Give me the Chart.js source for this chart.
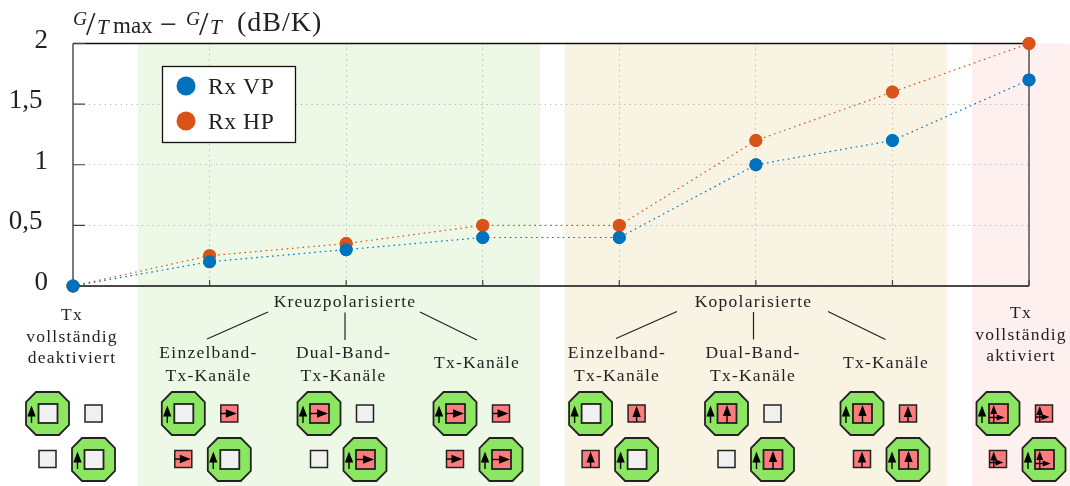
<!DOCTYPE html>
<html lang="de">
<head>
<meta charset="utf-8">
<title>G/T Differenz</title>
<script src="https://cdn.jsdelivr.net/npm/chart.js@4/dist/chart.umd.min.js"></script>
<style>
    html, body { margin: 0; background: #fff; }
    canvas { display: block; }
</style>
</head>
<body>
<canvas id="chart" width="1070" height="486"></canvas>
<script>
// --- Daten ---
const categories = [0, 1, 2, 3, 4, 5, 6, 7];
const rxVP = [0, 0.2, 0.3, 0.4, 0.4, 1, 1.2, 1.7];
const rxHP = [0, 0.25, 0.35, 0.5, 0.5, 1.2, 1.6, 2];
const seriesNames = ['Rx VP', 'Rx HP'];
const yTickLabels = ['0', '0,5', '1', '1,5', '2'];
const groupHeads = ['Kreuzpolarisierte', 'Kopolarisierte'];
const categoryLabels = [
    ['Tx', 'vollständig', 'deaktiviert'],
    ['Einzelband-', 'Tx-Kanäle'],
    ['Dual-Band-', 'Tx-Kanäle'],
    ['Tx-Kanäle'],
    ['Einzelband-', 'Tx-Kanäle'],
    ['Dual-Band-', 'Tx-Kanäle'],
    ['Tx-Kanäle'],
    ['Tx', 'vollständig', 'aktiviert']
];
// Was in den Antennen-Symbolen steckt: '' aus, 'r' horizontal, 'u' vertikal, 'ur' beide
const iconInner = ['', '', 'r', 'r', '', 'u', 'u', 'ur'];
const iconOuter = ['', 'r', '', 'r', 'u', '', 'u', 'ur'];

const BLUE = '#0072BD';
const ORANGE = '#D95319';
const INK = '#222';
const SERIF = '"Liberation Serif", serif';
const LABEL_SIZE = 17.5;
const LABEL_SPACING = '1.25px';

// Hintergrundbänder, in Einheiten der x-Achse
const bands = [
    { from: 0.476, to: 3.42, color: '#EDF9E6' },
    { from: 3.6, to: 6.4, color: '#F9F3E4' },
    { from: 6.583, to: 7.3, color: '#FFF0F0' }
];

const bandPlugin = {
    id: 'bands',
    beforeDraw(chart) {
        const { ctx, scales: { x }, chartArea } = chart;
        bands.forEach(b => {
            const l = x.getPixelForValue(b.from);
            const r = x.getPixelForValue(b.to);
            ctx.fillStyle = b.color;
            ctx.fillRect(l, chartArea.top, r - l, chart.height - chartArea.top);
        });
    }
};

function put(ctx, text, x, y, size, opts = {}) {
    ctx.font = `${opts.italic ? 'italic ' : ''}${size}px ${SERIF}`;
    ctx.letterSpacing = opts.spacing || '0px';
    ctx.textAlign = opts.align || 'center';
    ctx.textBaseline = 'alphabetic';
    ctx.fillStyle = INK;
    ctx.fillText(text, x, y);
    ctx.letterSpacing = '0px';
}

function arrow(ctx, x0, y0, x1, y1, head) {
    const a = Math.atan2(y1 - y0, x1 - x0);
    ctx.strokeStyle = '#000';
    ctx.fillStyle = '#000';
    ctx.lineWidth = 1.4;
    ctx.beginPath();
    ctx.moveTo(x0, y0);
    ctx.lineTo(x1 - Math.cos(a) * head * 0.5, y1 - Math.sin(a) * head * 0.5);
    ctx.stroke();
    ctx.beginPath();
    ctx.moveTo(x1, y1);
    ctx.lineTo(x1 - head * Math.cos(a) - head * 0.38 * Math.sin(a), y1 - head * Math.sin(a) + head * 0.38 * Math.cos(a));
    ctx.lineTo(x1 - head * Math.cos(a) + head * 0.38 * Math.sin(a), y1 - head * Math.sin(a) - head * 0.38 * Math.cos(a));
    ctx.closePath();
    ctx.fill();
}

// Quadrat mit Inhalt, s = halbe Kantenlänge
function cell(ctx, cx, cy, s, state, lw) {
    ctx.fillStyle = state ? '#FF7A7A' : '#F0F0F0';
    ctx.strokeStyle = '#222';
    ctx.lineWidth = lw;
    ctx.fillRect(cx - s, cy - s, s * 2, s * 2);
    ctx.strokeRect(cx - s, cy - s, s * 2, s * 2);
    const both = state === 'ur';
    if (state.includes('u')) {
        const ax = both ? cx - s * 0.5 : cx;
        arrow(ctx, ax, cy + s, ax, cy - s + 1, both ? 9 : 11);
    }
    if (state.includes('r')) {
        const ay = both ? cy + s * 0.42 : cy;
        arrow(ctx, cx - s, ay, both ? cx + s * 0.65 : cx + s - 1, ay, both ? 8 : 11);
    }
}

function antenna(ctx, cx, cy, state) {
    const r = 21.5, c = 10;
    ctx.beginPath();
    ctx.moveTo(cx - r + c, cy - r);
    ctx.lineTo(cx + r - c, cy - r);
    ctx.lineTo(cx + r, cy - r + c);
    ctx.lineTo(cx + r, cy + r - c);
    ctx.lineTo(cx + r - c, cy + r);
    ctx.lineTo(cx - r + c, cy + r);
    ctx.lineTo(cx - r, cy + r - c);
    ctx.lineTo(cx - r, cy - r + c);
    ctx.closePath();
    ctx.fillStyle = '#8CE662';
    ctx.strokeStyle = '#222';
    ctx.lineWidth = 1.8;
    ctx.fill();
    ctx.stroke();
    arrow(ctx, cx - 16, cy + 9.5, cx - 16, cy - 8, 11);
    cell(ctx, cx + 0.5, cy, 9.5, state, 1.8);
}

const annotationPlugin = {
    id: 'annotations',
    afterDatasetsDraw(chart) {
        const { ctx, scales: { x, y }, chartArea: a } = chart;
        ctx.save();

        // Rahmen und Striche
        ctx.strokeStyle = '#111';
        ctx.lineWidth = 1.3;
        ctx.beginPath();
        ctx.moveTo(a.left, a.top);
        ctx.lineTo(a.right, a.top);
        ctx.moveTo(a.left, a.bottom);
        ctx.lineTo(a.right, a.bottom);
        ctx.stroke();
        ctx.strokeStyle = '#666';
        ctx.lineWidth = 1.7;
        ctx.beginPath();
        ctx.moveTo(a.left, a.top);
        ctx.lineTo(a.left, a.bottom);
        ctx.moveTo(a.right, a.top);
        ctx.lineTo(a.right, a.bottom);
        ctx.stroke();
        ctx.strokeStyle = '#444';
        ctx.lineWidth = 1.2;
        ctx.beginPath();
        x.ticks.forEach((t, i) => {
            const px = x.getPixelForTick(i);
            ctx.moveTo(px, a.bottom);
            ctx.lineTo(px, a.bottom - 6);
        });
        y.ticks.forEach((t, i) => {
            const py = y.getPixelForTick(i);
            ctx.moveTo(a.left, py);
            ctx.lineTo(a.left + 12, py);
        });
        ctx.stroke();

        // Punkte über den Rahmen legen
        chart.data.datasets.map((d, i) => i).reverse().forEach(i => {
            chart.getDatasetMeta(i).data.forEach(pt => {
                ctx.beginPath();
                ctx.arc(pt.x, pt.y, 6.5, 0, Math.PI * 2);
                ctx.fillStyle = chart.data.datasets[i].pointBackgroundColor;
                ctx.fill();
            });
        });

        // Achsentitel
        put(ctx, 'G', 73, 25, 19.5, { italic: true, align: 'left' });
        put(ctx, '/', 86, 35, 34, { align: 'left' });
        put(ctx, 'T', 97, 34, 21, { italic: true, align: 'left' });
        put(ctx, 'max', 113, 33, 23, { align: 'left' });
        put(ctx, '−', 160, 33.5, 30, { align: 'left' });
        put(ctx, 'G', 186, 25, 19.5, { italic: true, align: 'left' });
        put(ctx, '/', 199, 35, 34, { align: 'left' });
        put(ctx, 'T', 210, 34, 21, { italic: true, align: 'left' });
        put(ctx, '(dB/K)', 237, 31, 28, { align: 'left', spacing: '1px' });

        // Legende
        ctx.fillStyle = '#fff';
        ctx.strokeStyle = '#111';
        ctx.lineWidth = 1.3;
        ctx.fillRect(162.5, 66.5, 133, 76);
        ctx.strokeRect(162.5, 66.5, 133, 76);
        [BLUE, ORANGE].forEach((c, i) => {
            const ly = 86 + i * 35;
            ctx.beginPath();
            ctx.arc(186, ly, 9.5, 0, Math.PI * 2);
            ctx.fillStyle = c;
            ctx.fill();
            put(ctx, seriesNames[i], 208, ly + 8, 23.5, { align: 'left', spacing: '0.6px' });
        });

        // Kategorien unter der Achse
        const labelX = [72, 208.5, 343.5, 477, 617, 753, 886, 1021];
        categoryLabels.forEach((lines, i) => {
            let top = 358;
            if (lines.length === 1) top = 368;
            if (lines.length === 3) top = i === 0 ? 320 : 318;
            const step = lines.length === 3 ? 21.5 : 23;
            lines.forEach((line, j) => {
                put(ctx, line, labelX[i], top + j * step, LABEL_SIZE, { spacing: LABEL_SPACING });
            });
        });
        put(ctx, groupHeads[0], 345, 307, LABEL_SIZE, { spacing: LABEL_SPACING });
        put(ctx, groupHeads[1], 753.5, 307, LABEL_SIZE, { spacing: LABEL_SPACING });

        // Verbindungslinien
        ctx.strokeStyle = '#222';
        ctx.lineWidth = 1.2;
        ctx.beginPath();
        [[207, 339, 268, 312], [345, 340, 345, 312.5], [420, 312, 477, 340],
         [616, 338.5, 677, 311.5], [753.5, 339.5, 753.5, 312], [828, 311.5, 885.5, 339.5]].forEach(l => {
            ctx.moveTo(l[0], l[1]);
            ctx.lineTo(l[2], l[3]);
        });
        ctx.stroke();

        // Antennen-Symbole
        const iconX = [70.5, 206.3, 342, 478, 613.6, 749.5, 885, 1021];
        iconX.forEach((cx, i) => {
            antenna(ctx, cx - 23, 413.5, iconInner[i]);
            cell(ctx, cx + 23, 413.5, 8.5, iconOuter[i], 1.5);
            cell(ctx, cx - 23, 459, 8.5, iconOuter[i], 1.5);
            antenna(ctx, cx + 23, 459.5, iconInner[i]);
        });

        ctx.restore();
    }
};

new Chart(document.getElementById('chart'), {
    type: 'line',
    data: {
        labels: categories,
        datasets: [
            { label: seriesNames[0], data: rxVP, borderColor: BLUE, pointBackgroundColor: BLUE },
            { label: seriesNames[1], data: rxHP, borderColor: ORANGE, pointBackgroundColor: ORANGE }
        ].map(d => ({
            ...d,
            borderWidth: 1.2,
            borderDash: [1.6, 3.7],
            pointRadius: 6.5,
            pointBorderWidth: 0,
            clip: false
        }))
    },
    plugins: [bandPlugin, annotationPlugin],
    options: {
        responsive: false,
        animation: false,
        layout: { padding: { top: 43.5, right: 41, left: 0, bottom: 0 } },
        plugins: { legend: { display: false }, tooltip: { enabled: false } },
        scales: {
            x: {
                type: 'linear',
                min: 0,
                max: 7,
                afterFit: s => { s.height = 200; },
                ticks: { display: false, stepSize: 1 },
                grid: { color: 'rgba(130,130,130,0.55)', lineWidth: 1, drawTicks: false },
                border: { display: false, dash: [1.3, 4] }
            },
            y: {
                min: 0,
                max: 2,
                afterFit: s => { s.width = 73; },
                ticks: {
                    stepSize: 0.5,
                    padding: 25,
                    labelOffset: -3,
                    color: INK,
                    font: { family: SERIF, size: 27 },
                    // die Dezimalzahlen stehen im Original etwas weiter links
                    callback: (v, i) => yTickLabels[i] + (yTickLabels[i].includes(',') ? '\u2009' : '')
                },
                grid: { color: 'rgba(130,130,130,0.55)', lineWidth: 1, drawTicks: false },
                border: { display: false, dash: [1.3, 4] }
            }
        }
    }
});
</script>
</body>
</html>
